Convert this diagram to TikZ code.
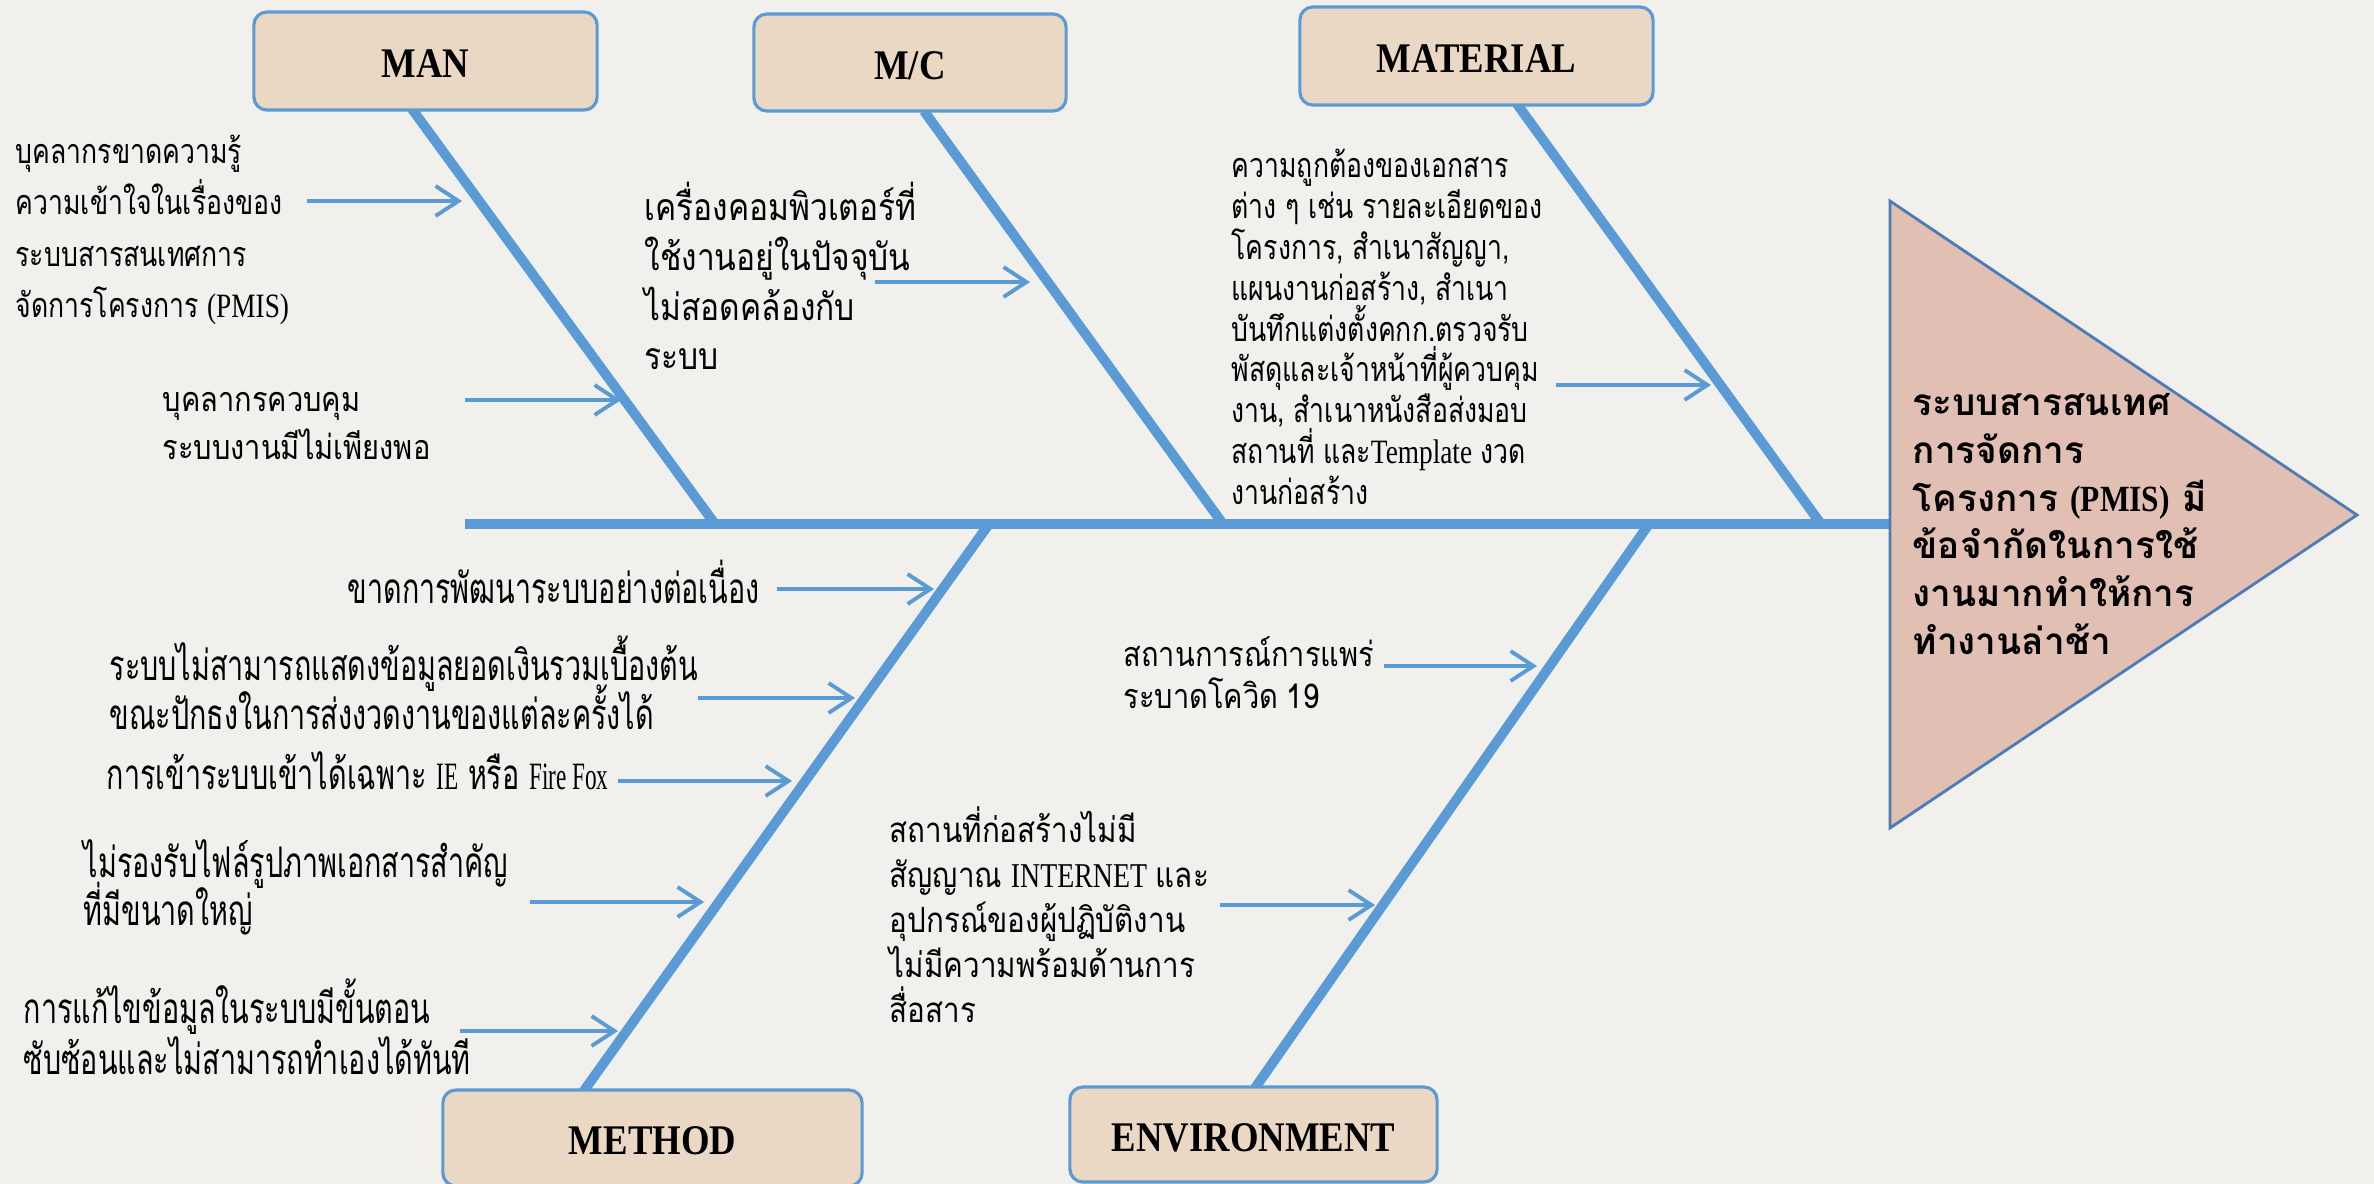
\documentclass[tikz,border=0pt]{standalone}
\usepackage{fontspec}
\usetikzlibrary{arrows.meta}
\newfontfamily\thai[Script=Thai,FakeStretch=0.85]{Loma}
\newfontfamily\thain[Script=Thai,FakeStretch=0.78]{Loma}
\newfontfamily\thaib[Script=Thai]{Loma}
\newfontfamily\thaic[Script=Thai,FakeStretch=0.68]{Loma}
\newfontfamily\lat[FakeStretch=0.8]{Liberation Serif}
\newfontfamily\latb[FakeStretch=0.85]{Liberation Serif}
\newfontfamily\latc[FakeStretch=0.6]{Liberation Serif}
\newfontfamily\headf[FakeStretch=0.87]{Liberation Serif}
\definecolor{bgc}{HTML}{F1F0EC}
\definecolor{bonec}{HTML}{5B9BD5}
\definecolor{boxc}{HTML}{EBD8C4}
\definecolor{tric}{HTML}{E1BFB3}
\definecolor{trilc}{HTML}{4A7DB5}
\begin{document}
\begin{tikzpicture}[x=0.01cm,y=-0.01cm,
  bone/.style={draw=bonec,line width=2.8pt},
  cause/.style={draw=bonec,line width=1.1pt,-{Straight Barb[length=6.5pt,width=8.5pt]}},
  catbox/.style={draw=bonec,line width=0.9pt,fill=boxc,rounded corners=3.7pt,
     font=\headf\bfseries\fontsize{12}{14}\selectfont,inner sep=0pt,
     text height=9.6pt,text depth=0pt},
  txt/.style 2 args={anchor=west,align=left,inner sep=0pt,
     font={\thai\fontsize{#1}{#2}\selectfont\lineskiplimit=-100pt\spaceskip=0.25em plus 0.1em}},
  ntxt/.style={anchor=west,align=left,inner sep=0pt,
     font={\thain\fontsize{9.7}{#1}\selectfont\lineskiplimit=-100pt\spaceskip=0.25em plus 0.1em}},
  ctxt/.style={anchor=west,align=left,inner sep=0pt,
     font={\thaic\fontsize{12}{#1}\selectfont\lineskiplimit=-100pt}},
  btxt/.style={anchor=west,align=left,inner sep=0pt,
     font={\thaib\bfseries\fontsize{10.5}{#1}\selectfont\lineskiplimit=-100pt}}
]
\useasboundingbox (0,0) rectangle (2374,1184);
\clip (0,0) rectangle (2374,1184);
\fill[bgc] (0,0) rectangle (2374,1184);

% coordinates of the skeleton
\coordinate (spL) at (465,524);
\coordinate (spR) at (1890,524);
\coordinate (manT) at (412,109);  \coordinate (manB) at (715,524);
\coordinate (mcT) at (924,111);   \coordinate (mcB) at (1223,524);
\coordinate (matT) at (1517,104); \coordinate (matB) at (1821,524);
\coordinate (metT) at (989,524);  \coordinate (metB) at (583,1092);
\coordinate (envT) at (1649,524); \coordinate (envB) at (1255,1088);

\draw[bone] (spL) -- (spR);
\draw[bone] (manT) -- (manB);
\draw[bone] (mcT) -- (mcB);
\draw[bone] (matT) -- (matB);
\draw[bone] (metT) -- (metB);
\draw[bone] (envT) -- (envB);

% category boxes
\node[catbox,minimum width=3.43cm,minimum height=0.98cm] (man) at (425.5,61) {MAN};
\node[catbox,minimum width=3.12cm,minimum height=0.97cm] (mc) at (910,62.5) {M/C};
\node[catbox,minimum width=3.53cm,minimum height=0.98cm] (mat) at (1476.5,56) {MATERIAL};
\node[catbox,minimum width=4.19cm,minimum height=0.96cm] (met) at (652.5,1138) {METHOD};
\node[catbox,minimum width=3.67cm,minimum height=0.95cm] (env) at (1253.5,1134.5) {ENVIRONMENT};

% head triangle
\coordinate (tA) at (1890,201);
\coordinate (tB) at (2357,515);
\coordinate (tC) at (1890,828);
\draw[fill=tric,draw=trilc,line width=0.8pt] (tA) -- (tB) -- (tC) -- cycle;
\node[btxt=13.6] (head) at (1912,524) {ระบบสารสนเทศ\\การจัดการ\\โครงการ {\latb\bfseries (PMIS)} มี\\ข้อจำกัดในการใช้\\งานมากทำให้การ\\ทำงานล่าช้า};

% cause texts
\node[ntxt=14.6] (t1) at (15,230) {บุคลากรขาดความรู้\\ความเข้าใจในเรื่องของ\\ระบบสารสนเทศการ\\จัดการโครงการ {\lat (PMIS)}};
\node[txt={9.7}{13.9}] (t2) at (162,426) {บุคลากรควบคุม\\ระบบงานมีไม่เพียงพอ};
\node[txt={10.6}{14.2}] (t3) at (644,276) {เครื่องคอมพิวเตอร์ที่\\ใช้งานอยู่ในปัจจุบัน\\ไม่สอดคล้องกับ\\ระบบ};
\node[ntxt=11.6] (t4) at (1231,327) {ความถูกต้องของเอกสาร\\ต่าง ๆ เช่น รายละเอียดของ\\โครงการ, สำเนาสัญญา,\\แผนงานก่อสร้าง, สำเนา\\บันทึกแต่งตั้งคกก.ตรวจรับ\\พัสดุและเจ้าหน้าที่ผู้ควบคุม\\งาน, สำเนาหนังสือส่งมอบ\\สถานที่ และ{\lat Template} งวด\\งานก่อสร้าง};
\node[ctxt=14.2] (t5) at (347,582) {ขาดการพัฒนาระบบอย่างต่อเนื่อง};
\node[ctxt=14.0] (t6) at (109,683) {ระบบไม่สามารถแสดงข้อมูลยอดเงินรวมเบื้องต้น\\ขณะปักธงในการส่งงวดงานของแต่ละครั้งได้};
\node[ctxt=14.2] (t7) at (106,771) {การเข้าระบบเข้าได้เฉพาะ {\latc\fontsize{11}{14}\selectfont IE} หรือ {\latc\fontsize{11}{14}\selectfont Fire Fox}};
\node[ctxt=13.6] (t8) at (83,887) {ไม่รองรับไฟล์รูปภาพเอกสารสำคัญ\\ที่มีขนาดใหญ่};
\node[ctxt=14.5] (t9) at (23,1027) {การแก้ไขข้อมูลในระบบมีขั้นตอน\\ซับซ้อนและไม่สามารถทำเองได้ทันที};
\node[txt={9.7}{11.9}] (t10) at (1123,673) {สถานการณ์การแพร่\\ระบาดโควิด 19};
\node[txt={9.9}{12.8}] (t11) at (889,915) {สถานที่ก่อสร้างไม่มี\\สัญญาณ {\lat INTERNET} และ\\อุปกรณ์ของผู้ปฏิบัติงาน\\ไม่มีความพร้อมด้านการ\\สื่อสาร};

% cause arrows
\coordinate (a1s) at (307,201);  \coordinate (a1e) at (462,201);
\coordinate (a2s) at (465,400);  \coordinate (a2e) at (621,400);
\coordinate (a3s) at (875,282);  \coordinate (a3e) at (1030,282);
\coordinate (a4s) at (1556,385); \coordinate (a4e) at (1711,385);
\coordinate (a5s) at (777,589);  \coordinate (a5e) at (934,589);
\coordinate (a6s) at (698,698);  \coordinate (a6e) at (855,698);
\coordinate (a7s) at (618,781);  \coordinate (a7e) at (792,781);
\coordinate (a8s) at (530,902);  \coordinate (a8e) at (704,902);
\coordinate (a9s) at (460,1031); \coordinate (a9e) at (618,1031);
\coordinate (a10s) at (1384,666); \coordinate (a10e) at (1537,666);
\coordinate (a11s) at (1220,905); \coordinate (a11e) at (1375,905);
\foreach \i in {1,...,11} {\draw[cause] (a\i s) -- (a\i e);}
\end{tikzpicture}
\end{document}
